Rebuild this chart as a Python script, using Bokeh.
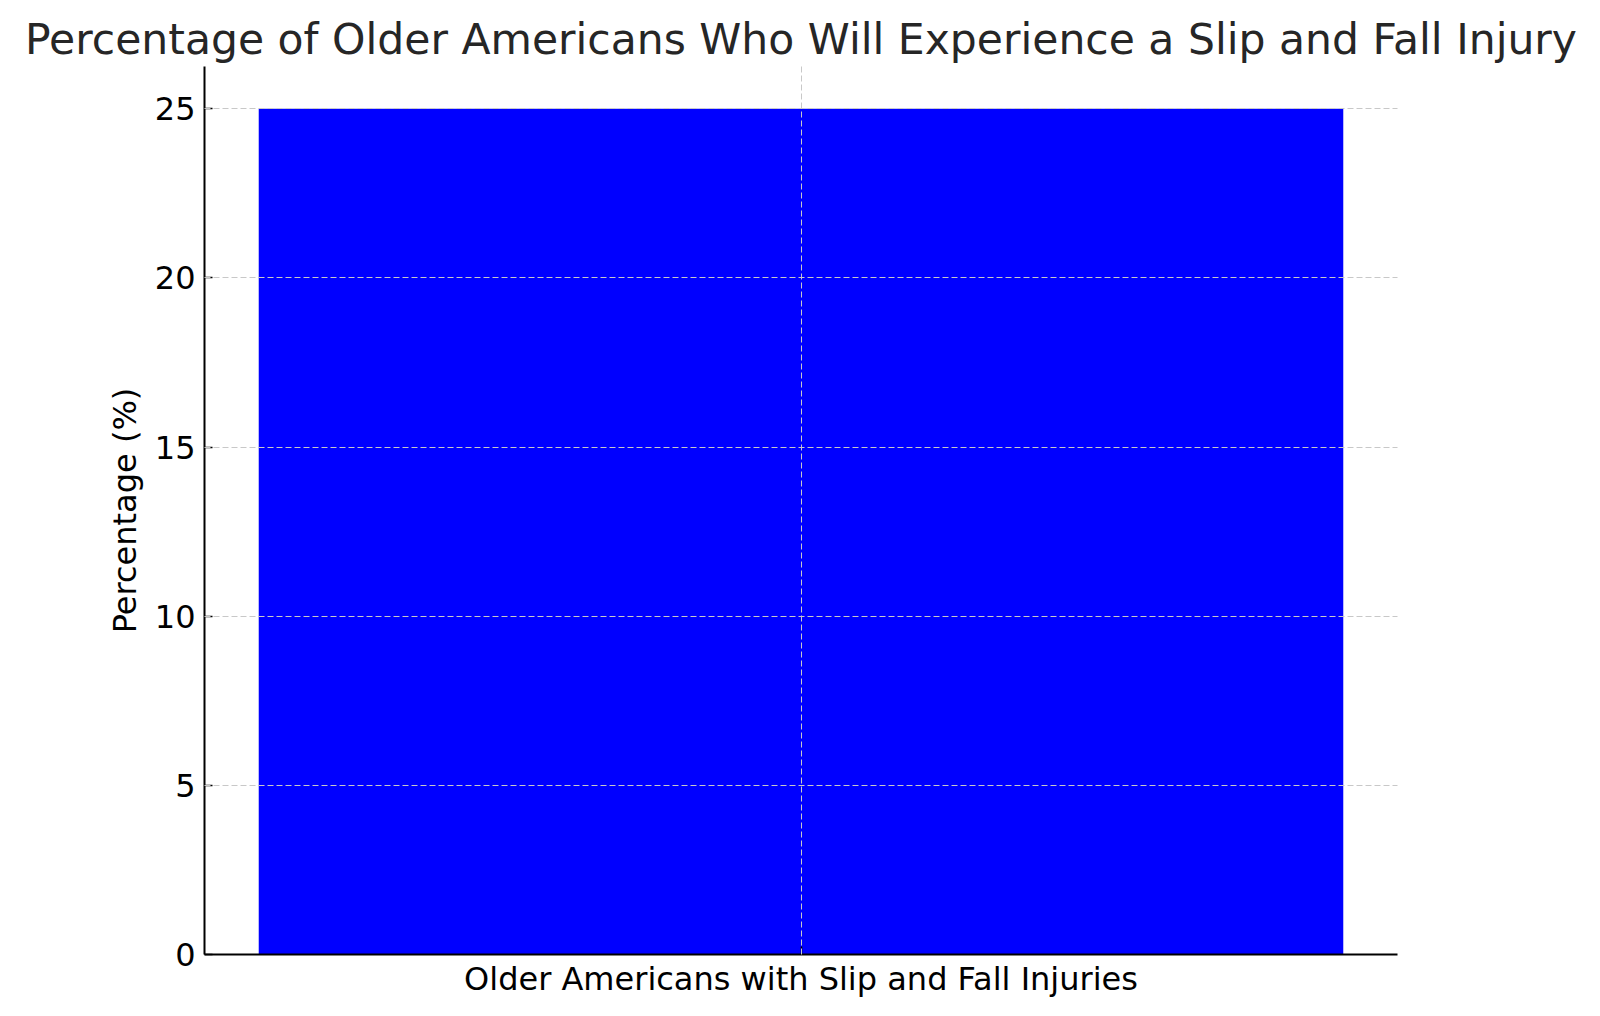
from bokeh.plotting import figure
from bokeh.models import ColumnDataSource, Range1d, FixedTicker
from bokeh.embed import file_html
from bokeh.resources import INLINE

# ---- data ----
categories = ["Older Americans with Slip and Fall Injuries"]
percentages = [25]
y_ticks = [0, 5, 10, 15, 20, 25]
title_text = "Percentage of Older Americans Who Will Experience a Slip and Fall Injury"
y_label = "Percentage (%)"

FONT = "DejaVu Sans"

xs = list(range(len(categories)))
src = ColumnDataSource(dict(x=xs, pct=percentages))

bar_w = 0.8
pad = 0.05 * bar_w
x_lo = min(xs) - bar_w / 2 - pad
x_hi = max(xs) + bar_w / 2 + pad
y_hi = max(percentages) * 1.05

p = figure(
    width=1584, height=1000,
    x_range=Range1d(x_lo, x_hi), y_range=Range1d(0, y_hi),
    output_backend="svg", toolbar_location=None,
    min_border_left=204, min_border_right=187,
    min_border_top=66, min_border_bottom=45,
)
p.outline_line_color = None
p.background_fill_color = "white"
p.border_fill_color = "white"

p.vbar(x="x", top="pct", width=bar_w, source=src, color="#0000ff", line_color=None)

# title
p.title.text = title_text
p.title.align = "center"
p.title.text_font = FONT
p.title.text_font_size = "42.5px"
p.title.text_font_style = "normal"
p.title.text_color = "#262626"
p.title.standoff = 6

# axes
p.xaxis.ticker = FixedTicker(ticks=xs)
p.xaxis.major_label_overrides = {x: c for x, c in zip(xs, categories)}
p.yaxis.ticker = FixedTicker(ticks=y_ticks)
p.yaxis.axis_label = y_label

for ax in (p.xaxis, p.yaxis):
    ax.axis_line_width = 2
    ax.axis_line_color = "black"
    ax.major_tick_in = 8
    ax.major_tick_out = 0
    ax.major_tick_line_width = 1.5
    ax.major_tick_line_color = "black"
    ax.minor_tick_line_color = None
    ax.major_label_text_font = FONT
    ax.major_label_text_font_size = "32px"
    ax.major_label_text_color = "black"
    ax.axis_label_text_font = FONT
    ax.axis_label_text_font_size = "32px"
    ax.axis_label_text_font_style = "normal"
    ax.axis_label_text_color = "black"

p.xaxis.major_label_standoff = 5
p.yaxis.major_label_standoff = 9
p.yaxis.axis_label_standoff = 8

# grid drawn above the bar, dashed light grey
for g in (p.xgrid, p.ygrid):
    g.level = "overlay"
    g.grid_line_color = "#c8c8c8"
    g.grid_line_width = 1
    g.grid_line_dash = "6 3"

p.xgrid.ticker = FixedTicker(ticks=xs)
p.ygrid.ticker = FixedTicker(ticks=y_ticks)

open("out.html", "w").write(file_html(p, INLINE))
